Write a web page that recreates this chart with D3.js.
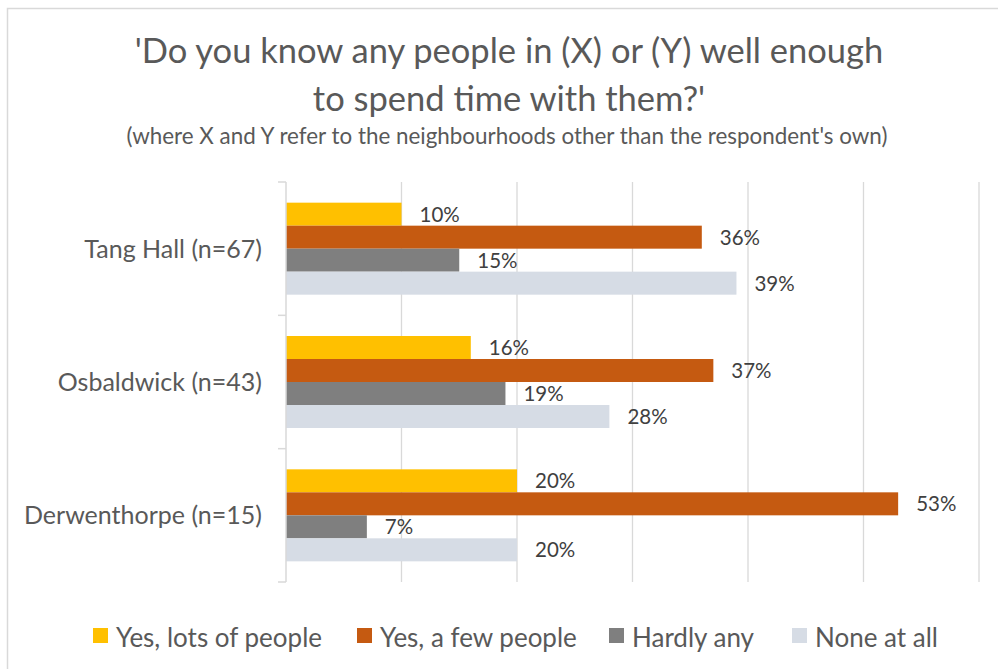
<!DOCTYPE html>
<html><head><meta charset="utf-8">
<script src="https://cdn.jsdelivr.net/npm/d3@7"></script>
<style>body{margin:0;background:#fff}svg{display:block}text{font-family:Lato,"Open Sans",sans-serif}</style>
</head><body><svg width="998" height="669"></svg>
<script>
const categories = ["Tang Hall (n=67)", "Osbaldwick (n=43)", "Derwenthorpe (n=15)"];
const seriesNames = ["Yes, lots of people", "Yes, a few people", "Hardly any", "None at all"];
const colors = ["#FFC000", "#C55A11", "#7F7F7F", "#D6DCE5"];
const values = [
  [10, 36, 15, 39],
  [16, 37, 19, 28],
  [20, 53, 7, 20]
];
const xTicks = [0, 10, 20, 30, 40, 50, 60];

(function () {
const svg = d3.select("svg");
svg.append("rect").attr("x", 7.5).attr("y", 8.5).attr("width", 1100).attr("height", 800)
  .attr("fill", "#fff").attr("stroke", "#d9d9d9").attr("stroke-width", 1.5);

const pL = 286, pR = 979, pT = 182, pB = 582;
const x = d3.scaleLinear().domain([0, 60]).range([pL, pR]);
const y0 = d3.scaleBand().domain(categories).range([pT, pB]).paddingInner(0.31).paddingOuter(0.155);
const y1 = d3.scaleBand().domain(seriesNames).range([0, y0.bandwidth()]);

svg.append("g").selectAll("line").data(xTicks.slice(1)).join("line")
  .attr("x1", d => x(d)).attr("x2", d => x(d)).attr("y1", pT).attr("y2", pB)
  .attr("stroke", "#d9d9d9").attr("stroke-width", 1.3);

const g = svg.append("g");
categories.forEach((c, i) => {
  values[i].forEach((v, j) => {
    g.append("rect").attr("x", x(0)).attr("y", y0(c) + y1(seriesNames[j]))
      .attr("width", x(v) - x(0)).attr("height", y1.bandwidth()).attr("fill", colors[j]);
    g.append("text").attr("x", x(v) + 18).attr("y", y0(c) + y1(seriesNames[j]) + y1.bandwidth() / 2 + 7.5)
      .attr("font-size", 20.5).attr("fill", "#404040").text(v + "%");
  });
});

const yAxis = d3.scaleLinear().domain([0, categories.length]).range([pT, pB]);
svg.append("line").attr("x1", pL).attr("x2", pL).attr("y1", pT).attr("y2", pB)
  .attr("stroke", "#d9d9d9").attr("stroke-width", 1.5);
svg.append("g").selectAll("line").data(d3.range(categories.length + 1)).join("line")
  .attr("x1", pL - 8).attr("x2", pL).attr("y1", d => yAxis(d)).attr("y2", d => yAxis(d))
  .attr("stroke", "#d9d9d9").attr("stroke-width", 1.5);
svg.append("g").selectAll("text").data(categories).join("text")
  .attr("x", 262).attr("y", d => y0(d) + y0.bandwidth() / 2 + 9)
  .attr("text-anchor", "end").attr("font-size", 25).attr("fill", "#595959").text(d => d);

svg.append("text").attr("x", 509).attr("y", 63).attr("text-anchor", "middle").attr("font-size", 34.5)
  .attr("fill", "#595959").text("'Do you know any people in (X) or (Y) well enough");
svg.append("text").attr("x", 509).attr("y", 111).attr("text-anchor", "middle").attr("font-size", 34.5)
  .attr("fill", "#595959").text("to spend time with them?'");
svg.append("text").attr("x", 507).attr("y", 144).attr("text-anchor", "middle").attr("font-size", 22.4)
  .attr("fill", "#595959").text("(where X and Y refer to the neighbourhoods other than the respondent's own)");

const legX = [93, 357, 609, 792];
const leg = svg.append("g").selectAll("g").data(seriesNames).join("g")
  .attr("transform", (d, i) => `translate(${legX[i]},628)`);
leg.append("rect").attr("width", 15).attr("height", 15).attr("y", 0).attr("fill", (d, i) => colors[i]);
leg.append("text").attr("x", 23).attr("y", 19).attr("font-size", 26).attr("fill", "#595959").text(d => d);
})();
</script></body></html>
